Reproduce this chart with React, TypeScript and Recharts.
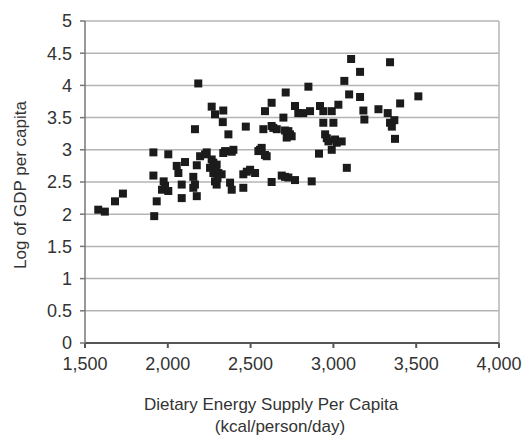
import React from "react";
import {
  ScatterChart,
  Scatter,
  XAxis,
  YAxis,
  ZAxis,
  CartesianGrid,
  ReferenceLine,
  Label,
} from "recharts";

// dietary energy supply, kcal/person/day
const energySupply = [
  1580, 1620, 1681, 1729,
  1913, 1913, 1918, 1933, 1965, 1975, 1983, 2003, 2003,
  2054, 2064, 2084, 2084, 2104,
  2154, 2154, 2164, 2175, 2175, 2164, 2184, 2195,
  2225, 2235, 2265, 2275, 2275, 2285, 2295, 2295, 2305, 2325, 2335, 2346, 2376, 2386, 2396, 2386,
  2255, 2290, 2300,
  2265, 2285, 2335, 2332, 2366,
  2456, 2456, 2477, 2497, 2471,
  2527, 2547, 2557, 2567, 2597, 2587,
  2577, 2587, 2627, 2627, 2637, 2658, 2698, 2712, 2718, 2728, 2738, 2748, 2708,
  2768, 2788, 2818, 2849, 2859, 2919, 2939, 2990, 3030,
  2627, 2688, 2708, 2728, 2768, 2869,
  2913, 2939, 2950, 2960, 2970, 2990, 3000, 3010, 3020, 3050, 3081,
  3066, 3107, 3161, 3095, 3161, 3181, 3187, 3272, 3328, 3342, 3342, 3353, 3368, 3372, 3403, 3513,
];

// log of GDP per capita
const logGdp = [
  2.07, 2.04, 2.2, 2.32,
  2.96, 2.6, 1.97, 2.2, 2.38, 2.51, 2.44, 2.36, 2.93,
  2.75, 2.64, 2.46, 2.25, 2.81,
  2.41, 2.58, 2.46, 2.28, 2.76, 3.32, 4.03, 2.9,
  2.93, 2.96, 2.85, 2.8, 2.64, 2.51, 2.46, 2.77, 2.64, 2.62, 2.95, 2.98, 2.49, 2.38, 3.0, 2.97,
  2.72, 2.7, 2.56,
  3.67, 3.55, 3.61, 3.43, 3.24,
  2.41, 2.62, 2.66, 2.69, 3.36,
  2.64, 2.98, 3.0, 3.03, 2.9, 2.92,
  3.32, 3.6, 3.73, 3.37, 3.34, 3.32, 3.5, 3.89, 3.19, 3.29, 3.24, 3.21, 3.3,
  3.68, 3.57, 3.57, 3.98, 3.6, 3.68, 3.6, 3.6, 3.7,
  2.5, 2.6, 2.58, 2.57, 2.53, 2.51,
  2.94, 3.42, 3.24, 3.18, 3.13, 3.0, 3.42, 3.16, 3.11, 3.13, 2.72,
  4.07, 4.41, 4.21, 3.86, 3.82, 3.61, 3.47, 3.63, 3.57, 4.36, 3.42, 3.36, 3.46, 3.17, 3.72, 3.83,
];

const xTicks = [1500, 2000, 2500, 3000, 3500, 4000];
const yTicks = [0, 0.5, 1, 1.5, 2, 2.5, 3, 3.5, 4, 4.5, 5];

const data = energySupply.map((x, i) => ({ x, y: logGdp[i] }));

const FONT = "'Liberation Sans', Arial, sans-serif";
const TEXT = "#333";

const XTitle = (props: any) => {
  const vb = props.viewBox;
  const cx = vb.x + vb.width / 2;
  return (
    <text fontFamily={FONT} fontSize={17} fill={TEXT} textAnchor="middle">
      <tspan x={cx - 21} y={vb.y + 67}>Dietary Energy Supply Per Capita</tspan>
      <tspan x={cx - 12} y={vb.y + 89}>(kcal/person/day)</tspan>
    </text>
  );
};

const YTitle = (props: any) => {
  const vb = props.viewBox;
  const cx = vb.x - 5;
  const cy = vb.y + vb.height / 2 + 3;
  return (
    <text
      x={cx}
      y={cy}
      transform={`rotate(-90, ${cx}, ${cy})`}
      fontFamily={FONT}
      fontSize={17}
      fill={TEXT}
      textAnchor="middle"
      dominantBaseline="central"
    >
      Log of GDP per capita
    </text>
  );
};

export default function App() {
  return (
    <div style={{ position: "absolute", left: 0, top: 0, background: "#fff" }}>
      <ScatterChart
        width={525}
        height={437}
        margin={{ top: 21, right: 26, left: 25, bottom: 34 }}
      >
        <CartesianGrid vertical={false} stroke="#b4b4b4" strokeWidth={1.5} />
        <ReferenceLine x={4000} stroke="#b4b4b4" strokeWidth={1.5} />
        <XAxis
          type="number"
          dataKey="x"
          domain={[1500, 4000]}
          ticks={xTicks}
          tickFormatter={(v: number) => v.toLocaleString("en-US")}
          height={60}
          tickSize={5}
          tickMargin={9}
          stroke="#555"
          strokeWidth={2}
          tick={{ fontFamily: FONT, fontSize: 18, fill: TEXT }}
          allowDataOverflow
        >
          <Label content={<XTitle />} />
        </XAxis>
        <YAxis
          type="number"
          dataKey="y"
          domain={[0, 5]}
          ticks={yTicks}
          width={60}
          tickSize={5}
          tickMargin={8}
          stroke="#777"
          strokeWidth={1.5}
          tick={{ fontFamily: FONT, fontSize: 18, fill: TEXT }}
          allowDataOverflow
        >
          <Label content={<YTitle />} />
        </YAxis>
        <ZAxis range={[56, 56]} />
        <Scatter
          data={data}
          shape="square"
          fill="#1b1b1b"
          isAnimationActive={false}
        />
      </ScatterChart>
    </div>
  );
}
